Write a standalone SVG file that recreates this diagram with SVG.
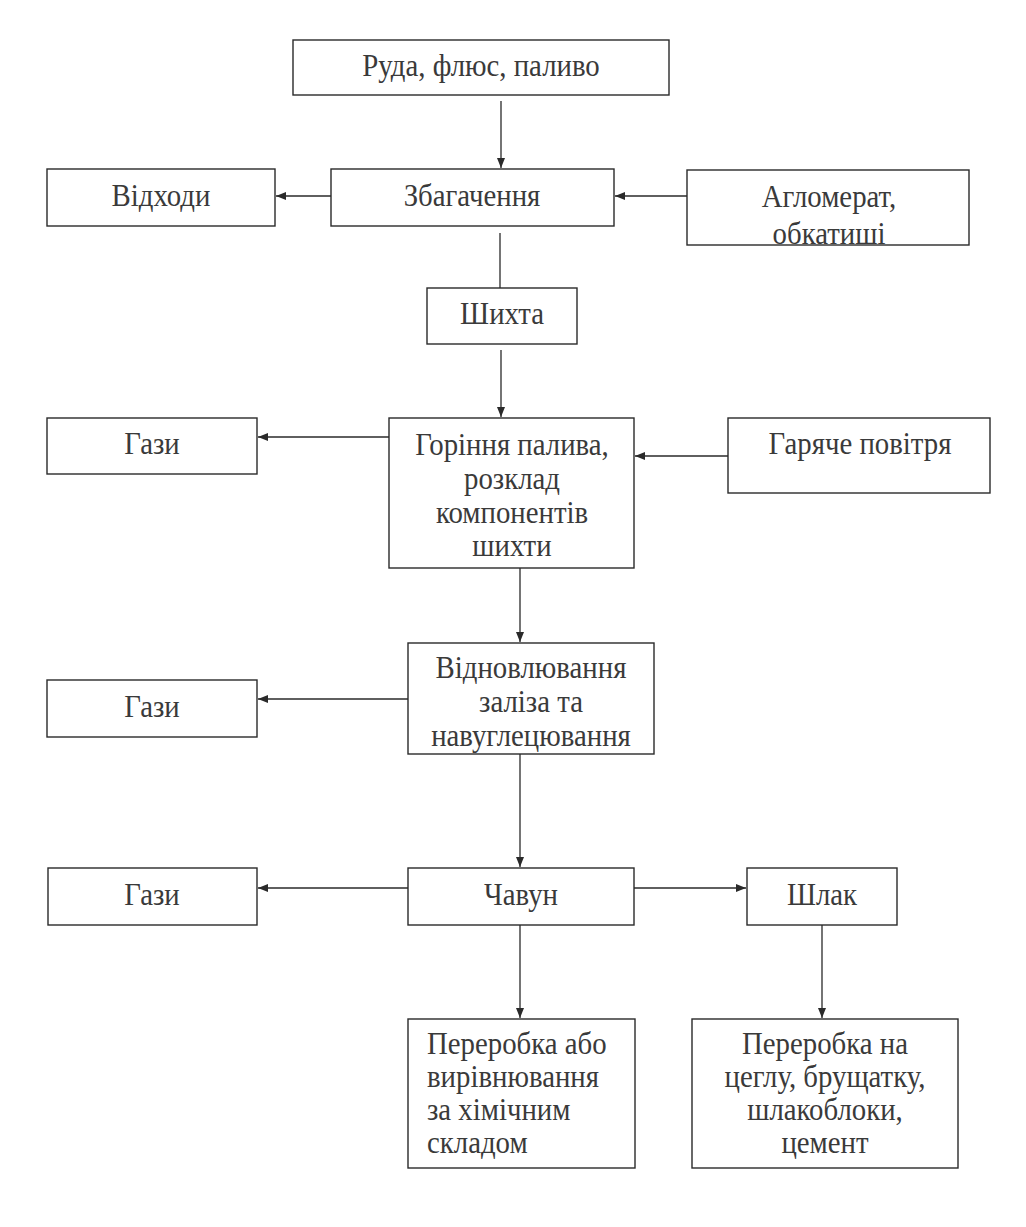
<svg xmlns="http://www.w3.org/2000/svg" width="1026" height="1227" viewBox="0 0 1026 1227">
<style>
.box{fill:#fff;stroke:#2a2a2a;stroke-width:1.4}
.t{font-family:"Liberation Serif","Times New Roman",serif;font-size:32px;fill:#3a3a3a;text-anchor:middle;transform-box:fill-box;transform-origin:center;transform:scaleX(0.9)}
.tl{text-anchor:start;transform-origin:left center}
.c{fill:none;stroke:#2a2a2a;stroke-width:1.3}
</style>
<defs>
<marker id="ah" viewBox="0 0 10 8" refX="10" refY="4" markerWidth="10" markerHeight="8" markerUnits="userSpaceOnUse" orient="auto">
<path d="M0,0 L10,4 L0,8 Z" fill="#2a2a2a"/>
</marker>
<clipPath id="clipAgl"><rect x="687" y="170" width="282" height="74"/></clipPath>
</defs>
<rect width="1026" height="1227" fill="#fff"/>
<g id="connectors">
<line class="c" x1="501" y1="101" x2="501" y2="168" marker-end="url(#ah)"/>
<line class="c" x1="687" y1="196" x2="615" y2="196" marker-end="url(#ah)"/>
<line class="c" x1="331" y1="196" x2="276" y2="196" marker-end="url(#ah)"/>
<line class="c" x1="500" y1="233" x2="500" y2="288"/>
<line class="c" x1="501" y1="350" x2="501" y2="417" marker-end="url(#ah)"/>
<line class="c" x1="389" y1="437" x2="258" y2="437" marker-end="url(#ah)"/>
<line class="c" x1="728" y1="456" x2="635" y2="456" marker-end="url(#ah)"/>
<line class="c" x1="520" y1="568" x2="520" y2="642" marker-end="url(#ah)"/>
<line class="c" x1="408" y1="699" x2="258" y2="699" marker-end="url(#ah)"/>
<line class="c" x1="520" y1="754" x2="520" y2="867" marker-end="url(#ah)"/>
<line class="c" x1="408" y1="888" x2="258" y2="888" marker-end="url(#ah)"/>
<line class="c" x1="634" y1="888" x2="746" y2="888" marker-end="url(#ah)"/>
<line class="c" x1="520" y1="925" x2="520" y2="1018" marker-end="url(#ah)"/>
<line class="c" x1="822" y1="925" x2="822" y2="1018" marker-end="url(#ah)"/>
</g>
<g id="n-ruda"><rect class="box" x="293" y="40" width="376" height="55"/><text class="t" x="481" y="76">Руда, флюс, паливо</text></g>
<g id="n-vidhody"><rect class="box" x="47" y="169" width="228" height="57"/><text class="t" x="161" y="206">Відходи</text></g>
<g id="n-zbag"><rect class="box" x="331" y="169" width="283" height="57"/><text class="t" x="472" y="206">Збагачення</text></g>
<g id="n-aglom"><rect class="box" x="687" y="170" width="282" height="75"/><g clip-path="url(#clipAgl)"><text class="t" x="829" y="207">Агломерат,</text><text class="t" x="829" y="244">обкатиші</text></g></g>
<g id="n-shyhta"><rect class="box" x="427" y="288" width="150" height="56"/><text class="t" x="502" y="324">Шихта</text></g>
<g id="n-hazy1"><rect class="box" x="47" y="418" width="210" height="56"/><text class="t" x="152" y="454">Гази</text></g>
<g id="n-horinnia"><rect class="box" x="389" y="418" width="245" height="150"/><text class="t" x="512" y="455">Горіння палива,</text><text class="t" x="512" y="489">розклад</text><text class="t" x="512" y="523">компонентів</text><text class="t" x="512" y="556">шихти</text></g>
<g id="n-povitria"><rect class="box" x="728" y="418" width="262" height="75"/><text class="t" x="860" y="454">Гаряче повітря</text></g>
<g id="n-hazy2"><rect class="box" x="47" y="680" width="210" height="57"/><text class="t" x="152" y="717">Гази</text></g>
<g id="n-vidnov"><rect class="box" x="408" y="643" width="246" height="111"/><text class="t" x="531" y="678">Відновлювання</text><text class="t" x="531" y="712">заліза та</text><text class="t" x="531" y="746">навуглецювання</text></g>
<g id="n-hazy3"><rect class="box" x="48" y="868" width="209" height="57"/><text class="t" x="152" y="905">Гази</text></g>
<g id="n-chavun"><rect class="box" x="408" y="868" width="226" height="57"/><text class="t" x="521" y="905">Чавун</text></g>
<g id="n-shlak"><rect class="box" x="747" y="868" width="150" height="57"/><text class="t" x="822" y="905">Шлак</text></g>
<g id="n-pererobka1"><rect class="box" x="408" y="1019" width="227" height="149"/><text class="t tl" x="427" y="1054">Переробка або</text><text class="t tl" x="427" y="1087">вирівнювання</text><text class="t tl" x="427" y="1120">за хімічним</text><text class="t tl" x="427" y="1153">складом</text></g>
<g id="n-pererobka2"><rect class="box" x="692" y="1019" width="266" height="149"/><text class="t" x="825" y="1054">Переробка на</text><text class="t" x="825" y="1087">цеглу, брущатку,</text><text class="t" x="825" y="1120">шлакоблоки,</text><text class="t" x="825" y="1153">цемент</text></g>
</svg>
